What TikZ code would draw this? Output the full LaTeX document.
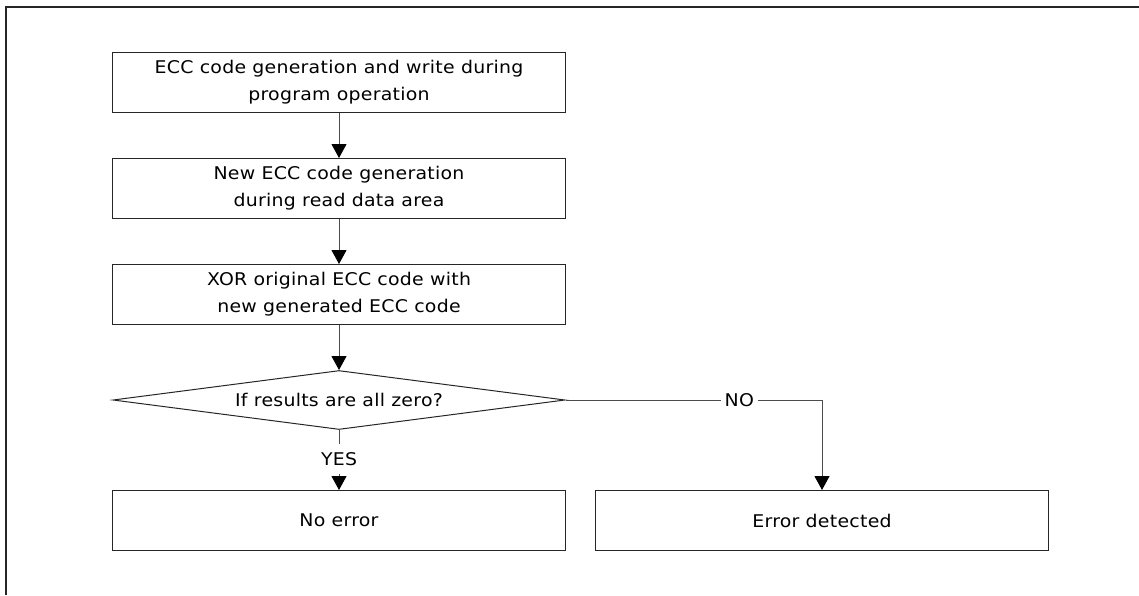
\documentclass[tikz,border=0pt]{standalone}
\usepackage{fontspec}
\setmainfont[LetterSpace=1.5, FakeStretch=1.08]{DejaVu Sans}
\usetikzlibrary{shapes,arrows.meta,positioning}
\tikzstyle{Step} = [draw=black!85, line width=1pt, rectangle, minimum width=453pt, minimum height=60pt, align=center, inner sep=0pt]
\tikzstyle{Check} = [draw=black!85, line width=1pt, diamond, aspect=7.5, minimum width=452pt, minimum height=59pt, inner sep=0pt]
\tikzstyle{Label} = [inner sep=0pt]
\tikzstyle{Flow} = [draw=black!70, line width=1pt, -{Triangle[width=15pt,length=14pt,black]}]

\begin{document}
\begin{tikzpicture}[x=1pt, y=-1pt, node distance=45pt, font=\fontsize{17.5}{27}\selectfont]
    \useasboundingbox (0,0) rectangle (1139,595);
    \draw[line width=1.5pt, black!85] (6,595) -- (6,7) -- (1139,7);

    \node[Step] (write)  at (339,82.5)      {ECC code generation and write during\\program operation};
    \node[Step] (read)   [below=of write]   {New ECC code generation\\during read data area};
    \node[Step] (xor)    [below=of read]    {XOR original ECC code with\\new generated ECC code};
    \node[Check] (zero)  [below=of xor]     {If results are all zero?};
    \node[Label, minimum height=30pt] (yes) [below=14pt of zero] {YES};
    \node[Label, inner xsep=4pt] (no) [right=155pt of zero] {NO};
    \node[Step] (noerr)  [below=60pt of zero]  {No error};
    \node[Step] (err)    [right=29pt of noerr] {Error detected};

    \draw[Flow] (write)  to (read);
    \draw[Flow] (read)   to (xor);
    \draw[Flow] (xor)    to (zero);
    \draw[draw=black!70, line width=1pt] (zero) to (yes);
    \draw[Flow] (yes)    to (noerr);
    \draw[draw=black!70, line width=1pt] (zero.east) to (no.west);
    \draw[Flow] (no.east) -| (err.north);
\end{tikzpicture}
\end{document}
